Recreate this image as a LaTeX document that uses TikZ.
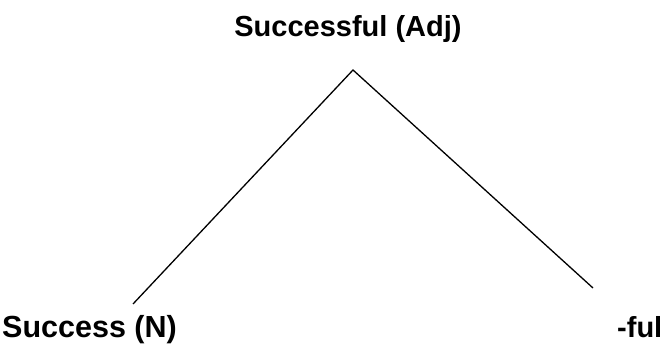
\documentclass[tikz,border=0pt]{standalone}
\usepackage{fontspec}
\setmainfont{Liberation Sans}
\begin{document}
\begin{tikzpicture}[x=1pt,y=1pt,
  lbl/.style={font=\fontsize{29}{34}\selectfont\bfseries, inner sep=0pt, anchor=base},
  branch/.style={draw=black, line width=1.3pt}]
\useasboundingbox (0,0) rectangle (664,343);
\node[lbl] (top) at (348,306) {Successful (Adj)};
\node[lbl, anchor=base west, font=\fontsize{30.5}{35}\selectfont\bfseries] (left) at (2,6) {Success (N)};
\node[lbl, anchor=base west] (right) at (617,6) {-ful};
\coordinate (apex) at (353,273);
\coordinate (lend) at (133,39);
\coordinate (rend) at (593,55);
\draw[branch] (lend) -- (apex) -- (rend);
\end{tikzpicture}
\end{document}
